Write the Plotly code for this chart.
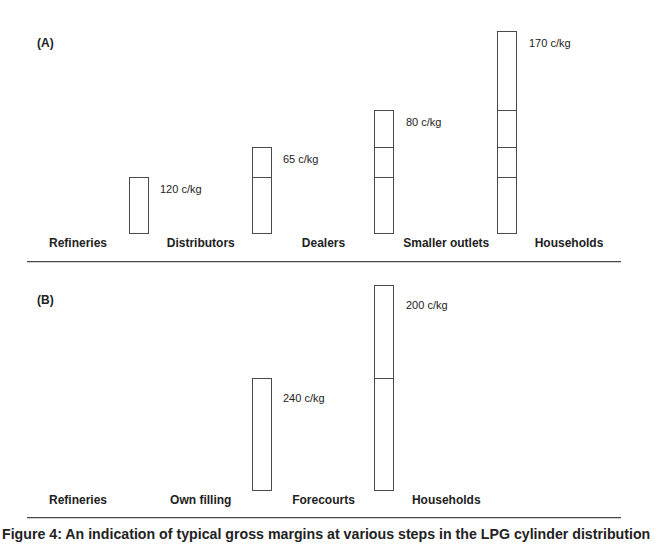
import plotly.graph_objects as go

# ---------------- data ----------------
stages_a = ["Refineries", "Distributors", "Dealers", "Smaller outlets", "Households"]
margins_a = [None, 120, 65, 80, 170]          # c/kg added at each step
stages_b = ["Refineries", "Own filling", "Forecourts", "Households"]
margins_b = [None, None, 240, 200]
panel_labels = ["(A)", "(B)"]
unit = "c/kg"
caption = ("Figure 4: An indication of typical gross margins at various steps "
           "in the LPG cylinder distribution")

# ---------------- style ----------------
W, H = 662, 544
FONT = "Liberation Sans, Arial, Helvetica, sans-serif"
TXT = "#222222"
EDGE = "#4a4a4a"
BAR_W = 0.155
X0_PX, STEP_PX = 78, 122.75
XRANGE = [-X0_PX / STEP_PX, (W - X0_PX) / STEP_PX]
YMAX = 460
PX_PER_UNIT = 0.465
dom_h = YMAX * PX_PER_UNIT / H
base_a = (H - 234) / H
base_b = (H - 491) / H

fig = go.Figure()


def add_panel(stages, margins, xa, ya, label_shift):
    n = len(stages)
    # which stages get a bar (any margin accumulated so far)
    has_bar = []
    for i in range(n):
        has_bar.append(any(m is not None for m in margins[1:i + 1]))
    for k in range(1, n):
        if margins[k] is None:
            continue
        xs = [i - 0.5 for i in range(k, n) if has_bar[i]]
        ys = [margins[k]] * len(xs)
        fig.add_trace(go.Bar(
            x=xs, y=ys, width=BAR_W, xaxis=xa, yaxis=ya,
            marker=dict(color="white", line=dict(color=EDGE, width=1.3)),
            showlegend=False, hoverinfo="skip"))
        total = sum(m for m in margins[1:k + 1] if m is not None)
        fig.add_annotation(
            x=k - 0.5, y=total, xref=xa, yref=ya,
            text=f"{margins[k]} {unit}", showarrow=False,
            xanchor="left", yanchor="middle", xshift=19, yshift=label_shift,
            font=dict(family=FONT, size=11, color=TXT))


add_panel(stages_a, margins_a, "x", "y", -11)
add_panel(stages_b, margins_b, "x2", "y2", -19)

axis_x = dict(range=XRANGE, domain=[0, 1], showgrid=False, zeroline=False,
              showline=False, ticks="", fixedrange=True,
              tickfont=dict(family=FONT, size=12, color=TXT, weight="bold"))
axis_y = dict(range=[0, YMAX], showgrid=False, zeroline=False, showline=False,
              showticklabels=False, ticks="", fixedrange=True)

fig.update_layout(
    width=W, height=H, margin=dict(l=0, r=0, t=0, b=0),
    paper_bgcolor="white", plot_bgcolor="rgba(0,0,0,0)",
    barmode="stack", bargap=0,
    xaxis=dict(axis_x, anchor="y", tickvals=list(range(len(stages_a))),
               ticktext=stages_a),
    yaxis=dict(axis_y, domain=[base_a, base_a + dom_h]),
    xaxis2=dict(axis_x, anchor="y2", tickvals=list(range(len(stages_b))),
                ticktext=stages_b),
    yaxis2=dict(axis_y, domain=[base_b, base_b + dom_h]),
)

# separator lines
for ypx in (261.7, 517.7):
    fig.add_shape(type="line", xref="paper", yref="paper",
                  x0=27 / W, x1=621 / W, y0=(H - ypx) / H, y1=(H - ypx) / H,
                  line=dict(color=EDGE, width=1.3))

# panel labels
for lab, ypx in zip(panel_labels, (43, 300)):
    fig.add_annotation(x=35 / W, y=(H - ypx) / H, xref="paper", yref="paper",
                       text=f"<b>{lab}</b>", showarrow=False,
                       xanchor="left", yanchor="middle",
                       font=dict(family=FONT, size=12, color=TXT))

fig.add_annotation(x=326 / W, y=(H - 534) / H, xref="paper", yref="paper",
                   text=f"<b>{caption}</b>", showarrow=False,
                   xanchor="center", yanchor="middle",
                   font=dict(family=FONT, size=14.2, color=TXT))

fig.write_html("out.html")
